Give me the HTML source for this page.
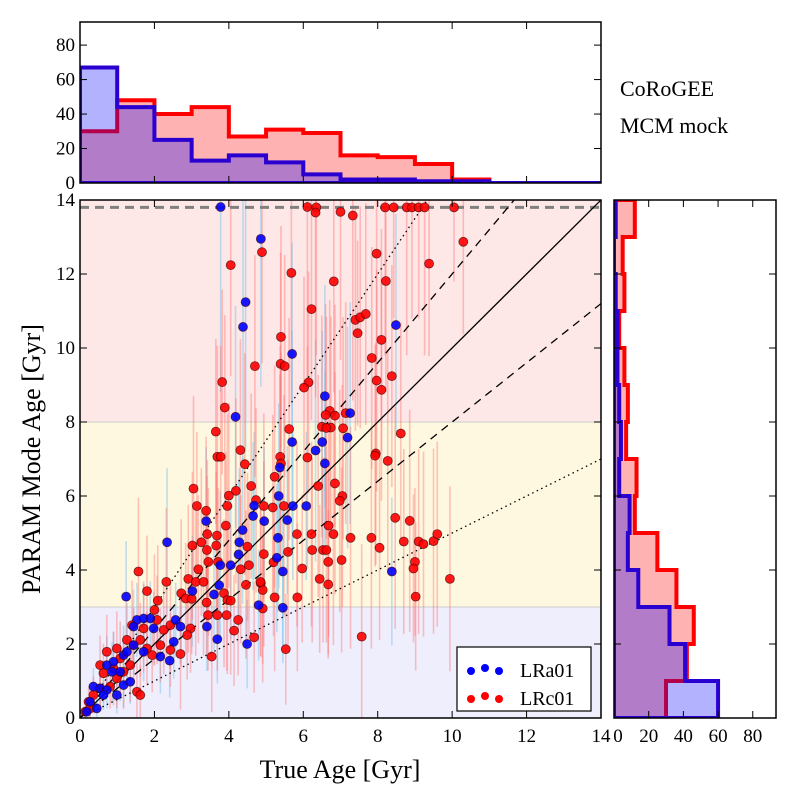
<!DOCTYPE html>
<html><head><meta charset="utf-8"><style>
body{margin:0;background:#fff}
svg{display:block;font-family:"Liberation Serif","DejaVu Serif",serif}
</style></head><body>
<svg id="chart" width="800" height="800" viewBox="0 0 800 800"></svg>
<script>
// ---- data ----
const histBins = [0,1,2,3,4,5,6,7,8,9,10,11,12,13,14];
const trueAgeBlue = [67,44,25,13,16,12,5,2,2,1,1,0,0,0];
const trueAgeRed  = [30,48,40,44,27,31,29,16,15,11,2,0,0,0];
const modeAgeBlue = [60,41,32,14,8,9,3,4,3,2,2,1,0,1];
const modeAgeRed  = [30,42,46,36,25,12,13,7,8,6,3,6,5,12];
const histTicks = [0,20,40,60,80];
const ageTicks = [0,2,4,6,8,10,12,14];
const bandEdges = [0,3,8,14];
const lineSlopes = [1,1.2,0.8,1.5,0.5];
const ceilingAge = 13.8;
// [trueAge, modeAge, err]
const redPts = [
[6.11,13.81,5],[6.35,13.8,4],[6.33,13.66,5],[7.0,13.68,4],[7.33,13.58,5],[8.2,13.8,4],[8.43,13.8,3],[8.78,13.8,4],[8.92,13.8,3],[9.1,13.8,3],[9.26,13.8,4],[10.05,13.8,2],
[10.3,12.87,2.5],[7.97,12.55,3],[9.38,12.28,2.5],[4.05,12.24,3],[4.89,12.59,3],[5.68,12.03,3.5],[6.82,11.8,3],[8.22,11.81,3],[6.22,11.05,3],[7.4,10.76,3],[7.53,10.83,3],[7.68,10.92,3],[7.46,10.4,2.5],[5.4,10.3,3],[8.1,10.22,3],[7.84,9.73,3],[4.7,9.51,3],[5.39,9.57,3],[5.5,9.51,3],[8.38,9.24,3],[7.97,9.12,3],[8.1,8.87,3],[6.14,9.07,3],[6.02,8.93,3],[3.82,9.08,2.5],[3.89,8.39,2.5],[6.71,8.3,3],[6.6,8.19,3],[6.85,8.17,3],[7.14,8.24,3],[6.5,7.87,3],[6.74,7.85,3],[6.62,7.84,3],[7.07,7.83,3],[5.62,7.81,3],[3.65,7.74,2.5],[8.62,7.69,3],[4.31,7.24,3],[7.95,7.15,3],
[3.69,7.06,3],[3.78,7.06,3],[4.43,6.86,3],[5.38,7.06,3],[5.4,6.88,3],[6.11,7.04,3],[7.93,7.09,3],[8.27,6.95,3],[3.05,6.2,2.5],[4.19,6.14,2.5],[4.0,6.01,2.5],[4.6,6.27,2.5],[5.23,6.52,3],[6.4,6.27,3],[6.85,6.34,3],[7.05,6.0,3],[6.98,5.87,3],[4.73,5.89,2.5],[4.94,5.73,2.5],[5.18,5.69,2.5],[5.48,5.73,3],[3.14,5.73,2],[3.96,5.73,2.5],[3.39,5.6,2],[3.92,5.2,2],[6.68,5.2,3],[8.47,5.41,3],[8.86,5.33,3],[5.83,4.97,2.5],[6.22,4.97,2.5],[6.81,4.97,3],[7.27,4.87,3],[7.83,4.87,3],[3.42,4.97,2],[3.68,4.93,2],[3.02,4.66,2],[3.26,4.75,2],[3.66,4.66,2],[3.41,4.54,2],[4.5,4.63,2],[4.94,4.43,2.5],[5.59,4.49,2.5],[6.24,4.54,2.5],[6.53,4.54,2.5],[6.62,4.54,2.5],[8.05,4.6,2.5],[8.7,4.77,2.5],[9.1,4.77,2.5],[9.23,4.7,2.5],[9.5,4.78,2.5],[9.6,4.97,2.5],[9.0,4.22,2],[8.96,4.04,2],[9.94,3.76,2.5],[6.67,4.22,2.5],[7.03,4.27,2.5],[5.97,4.04,2],[6.44,3.76,2],[6.67,3.61,2],[5.2,4.21,2],[3.45,4.22,2],[3.71,4.22,2],[3.18,4.02,2],[4.32,4.02,2],[4.54,4.13,2],[2.32,3.68,2],[2.91,3.76,2],[3.11,3.68,2],[3.32,3.68,2],[1.8,3.43,1.5],[2.72,3.37,2],[3.87,3.37,2],[4.46,3.6,2],[4.86,3.64,2],[4.91,3.46,2],[4.85,3.68,2],[2.09,3.17,1.5],[2.84,3.23,1.5],[3.0,3.22,1.5],[3.4,3.12,1.5],[3.96,3.19,2],[4.05,3.17,2],[5.23,3.26,2],[5.84,3.26,2],[9.02,3.28,2],[4.91,2.96,2],[3.69,2.78,1.5],[3.94,2.78,1.5],[4.25,2.65,1.5],[3.44,2.78,1.5],[4.14,2.36,1.5],[4.68,2.18,1.5],[7.57,2.2,2.5],[5.53,1.86,1.5],[3.54,1.66,1.5],[2.7,1.73,1.5],[1.57,3.96,2],[2.0,2.92,1.5],[1.4,2.51,1.2],[1.71,2.42,1.2],[2.07,2.65,1.2],[2.25,2.38,1.2],[2.43,2.51,1.2],[2.97,2.42,1.2],[2.88,2.24,1.2],[1.62,2.11,1],[1.26,2.11,1],[1.44,1.97,1],[0.99,1.88,1],[0.72,1.79,1],[1.08,1.61,1],[1.35,1.43,1],[0.9,1.34,1],[1.17,1.25,1],[0.54,1.43,0.8],[0.63,1.21,0.8],[1.53,0.71,0.8],[1.62,0.62,0.8],[0.36,0.62,0.5],[0.54,0.8,0.5],[0.23,0.44,0.4],[0.14,0.17,0.3],[0.27,0.26,0.3],[0.81,0.85,0.6],[0.99,1.07,0.8],[1.94,1.7,1],[1.8,1.88,1],[2.16,1.97,1],[2.43,1.84,1]
];
const bluePts = [
[3.78,13.81,5],[4.86,12.95,4],[4.45,11.24,4],[4.38,10.57,4],[8.49,10.62,3],[5.7,9.84,3],[6.58,8.7,3],[7.26,8.24,3],[4.18,8.14,3],[7.19,7.58,3],[5.7,7.46,3],[6.51,7.46,3],[6.33,7.23,3],
[2.34,4.75,2],[3.39,5.32,2],[4.37,5.08,2],[4.28,4.75,2],[4.68,5.74,2],[4.65,5.46,2],[4.95,5.32,2],[5.37,6.77,2.5],[5.34,6.0,2.5],[5.57,5.35,2],[5.32,4.87,2],[5.72,5.73,2],[6.08,5.73,2],[6.58,6.88,2.5],[5.45,3.96,2],[5.45,2.98,1.5],[5.29,4.33,2],[4.26,4.42,2],[4.05,4.13,2],[3.77,4.13,2],[3.74,3.59,1.5],[3.6,3.34,1.5],[3.02,3.43,1.5],[4.8,3.05,1.5],[8.38,3.96,2],[1.24,3.28,1.5],[3.41,2.47,1.2],[3.69,2.13,1.2],[4.49,2.0,1.2],[2.52,2.06,1],[2.41,1.55,1],[2.16,1.66,1],[1.53,2.65,1],[1.71,2.69,1],[1.89,2.69,1],[1.44,2.47,1],[1.98,2.42,1],[2.57,2.65,1],[2.7,2.47,1],[1.17,1.7,0.8],[0.9,1.52,0.8],[0.72,1.43,0.8],[0.86,1.25,0.8],[1.08,1.25,0.8],[1.26,1.79,0.8],[1.44,1.97,0.8],[1.71,1.79,0.8],[0.36,0.85,0.5],[0.54,0.8,0.5],[0.72,0.76,0.5],[0.27,0.44,0.4],[0.45,0.26,0.3],[0.18,0.17,0.3],[0.63,0.62,0.4],[0.99,0.62,0.5],[1.17,0.89,0.6],[1.35,0.98,0.6]
];

// ---- geometry ----
const NS="http://www.w3.org/2000/svg";
const svg=document.getElementById('chart');
const M={l:80,r:601,t:200,b:718};
const T={l:80,r:601,t:22,b:183};
const R={l:614,r:776,t:200,b:718};
const AGEMAX=14, HMAX=93.4;
const mx=v=>M.l+(M.r-M.l)*v/AGEMAX;
const my=v=>M.b-(M.b-M.t)*v/AGEMAX;
const ty=v=>T.b-(T.b-T.t)*v/HMAX;
const rx=v=>R.l+(R.r-R.l)*v/HMAX;
function el(tag,attrs,parent){const e=document.createElementNS(NS,tag);for(const k in attrs)e.setAttribute(k,attrs[k]);(parent||svg).appendChild(e);return e;}

const defs=el('defs',{});
const cp=el('clipPath',{id:'mclip'},defs);el('rect',{x:M.l,y:M.t,width:M.r-M.l,height:M.b-M.t},cp);

// ---- main panel ----
const main=el('g',{'clip-path':'url(#mclip)'});


const bandColors=['#efeefc','#fef8e0','#fde7e7'];
const bandNames=['band-young','band-intermediate','band-old'];
for(let i=0;i<3;i++){
  const r=el('rect',{x:M.l,y:my(bandEdges[i+1]),width:M.r-M.l,height:my(bandEdges[i])-my(bandEdges[i+1]),fill:bandColors[i]},main);
  
  
}
for(let i=1;i<3;i++){el('line',{x1:M.l,x2:M.r,y1:my(bandEdges[i]),y2:my(bandEdges[i]),stroke:'#ccc','stroke-width':1},main);}
function errs(pts,color,name){
  const g=el('g',{},main);
  
  
  pts.forEach(p=>{el('line',{x1:mx(p[0]),x2:mx(p[0]),y1:my(Math.max(0,p[1]-p[2])),y2:my(Math.min(14,p[1]+p[2])),stroke:color,'stroke-width':1.6},g);});
}
errs(bluePts,'rgba(140,200,235,0.55)','lra01-error-bars');
errs(redPts,'rgba(255,110,110,0.4)','lrc01-error-bars');
const cl=el('line',{x1:M.l,x2:M.r,y1:my(ceilingAge),y2:my(ceilingAge),stroke:'#808080','stroke-width':3,'stroke-dasharray':'9,6'},main);


const dashes=['none','8,6','8,6','1.5,3.5','1.5,3.5'];
const lineNames=['one-to-one-line','plus-20pct-line','minus-20pct-line','plus-50pct-line','minus-50pct-line'];
lineSlopes.forEach((s,i)=>{
  const l=el('line',{x1:mx(0),y1:my(0),x2:mx(AGEMAX),y2:my(AGEMAX*s),stroke:'#000','stroke-width':1.3,'stroke-dasharray':dashes[i]},main);
  
  
});
function pts(arr,fill,name){
  const g=el('g',{},main);
  
  
  arr.forEach(p=>{
    const c=el('circle',{cx:mx(p[0]),cy:my(p[1]),r:4.5,fill:fill,stroke:'rgba(60,0,0,0.7)','stroke-width':0.8,'fill-opacity':0.9},g);
    
    
  });
}
pts(redPts,'#ff0000','lrc01-points');
pts(bluePts,'#0000ff','lra01-points');
el('rect',{x:M.l,y:M.t,width:M.r-M.l,height:M.b-M.t,fill:'none',stroke:'#000','stroke-width':1.5});

ageTicks.forEach(v=>{
  el('line',{x1:mx(v),x2:mx(v),y1:M.b,y2:M.b-7,stroke:'#000'});
  el('line',{x1:mx(v),x2:mx(v),y1:M.t,y2:M.t+7,stroke:'#000'});
  el('line',{x1:M.l,x2:M.l+7,y1:my(v),y2:my(v),stroke:'#000'});
  el('line',{x1:M.r,x2:M.r-7,y1:my(v),y2:my(v),stroke:'#000'});
  const tx=el('text',{x:mx(v),y:742,'font-size':19,'text-anchor':'middle'});tx.textContent=v;
  
  
  const tyl=el('text',{x:M.l-5,y:my(v)+6,'font-size':19,'text-anchor':'end'});tyl.textContent=v;
  
  
});
const xt=el('text',{x:340,y:778,'font-size':26,'text-anchor':'middle'});xt.textContent='True Age [Gyr]';


const yt=el('text',{x:0,y:0,'font-size':26,'text-anchor':'middle',transform:'translate(40,459) rotate(-90)'});yt.textContent='PARAM Mode Age [Gyr]';



const lg=el('g',{});


el('rect',{x:457,y:647,width:134,height:64,fill:'#fff',stroke:'#000','stroke-width':1.2},lg);
[['LRa01','#0000ff',670],['LRc01','#ff0000',698]].forEach(e=>{
  const g=el('g',{},lg);
  
  
  [471,485,499].forEach((x,i)=>el('circle',{cx:x,cy:e[2]+(i==1?-2:1),r:4,fill:e[1]},g));
  const t=el('text',{x:520,y:e[2]+7,'font-size':20},g);t.textContent=e[0];
});

// ---- histograms ----
function stepTop(vals,fill,stroke,name,parent){
  let d=`M${mx(0)},${ty(0)}`;
  vals.forEach((v,i)=>{d+=` L${mx(histBins[i])},${ty(v)} L${mx(histBins[i+1])},${ty(v)}`;});
  d+=` L${mx(histBins[vals.length])},${ty(0)} Z`;
  const p=el('path',{d:d,fill:fill,stroke:stroke,'stroke-width':4,'stroke-linejoin':'miter'},parent);
  
  
}
function stepRight(vals,fill,stroke,name,parent){
  let d=`M${rx(0)},${my(0)}`;
  vals.forEach((v,i)=>{d+=` L${rx(v)},${my(histBins[i])} L${rx(v)},${my(histBins[i+1])}`;});
  d+=` L${rx(0)},${my(histBins[vals.length])} Z`;
  const p=el('path',{d:d,fill:fill,stroke:stroke,'stroke-width':4},parent);
  
  
}
const cpT=el('clipPath',{id:'tclip'},defs);el('rect',{x:T.l,y:T.t,width:T.r-T.l,height:T.b-T.t},cpT);
const cpR=el('clipPath',{id:'rclip'},defs);el('rect',{x:R.l,y:R.t,width:R.r-R.l,height:R.b-R.t},cpR);
const gT=el('g',{'clip-path':'url(#tclip)'});


stepTop(trueAgeRed,'rgba(255,0,0,0.3)','#ff0000','true-age-hist-lrc01',gT);
stepTop(trueAgeBlue,'rgba(0,0,255,0.3)','#2a00d0','true-age-hist-lra01',gT);
el('rect',{x:T.l,y:T.t,width:T.r-T.l,height:T.b-T.t,fill:'none',stroke:'#000','stroke-width':1.5});
ageTicks.forEach(v=>{
  el('line',{x1:mx(v),x2:mx(v),y1:T.b,y2:T.b-7,stroke:'#000'});
  el('line',{x1:mx(v),x2:mx(v),y1:T.t,y2:T.t+7,stroke:'#000'});
});
histTicks.forEach(v=>{
  el('line',{x1:T.l,x2:T.l+7,y1:ty(v),y2:ty(v),stroke:'#000'});
  el('line',{x1:T.r,x2:T.r-7,y1:ty(v),y2:ty(v),stroke:'#000'});
  const t=el('text',{x:T.l-5,y:ty(v)+6,'font-size':19,'text-anchor':'end'});t.textContent=v;
  
  
});
const gR=el('g',{'clip-path':'url(#rclip)'});


stepRight(modeAgeRed,'rgba(255,0,0,0.3)','#ff0000','mode-age-hist-lrc01',gR);
stepRight(modeAgeBlue,'rgba(0,0,255,0.3)','#2a00d0','mode-age-hist-lra01',gR);
el('rect',{x:R.l,y:R.t,width:R.r-R.l,height:R.b-R.t,fill:'none',stroke:'#000','stroke-width':1.5});
ageTicks.forEach(v=>{
  el('line',{x1:R.l,x2:R.l+7,y1:my(v),y2:my(v),stroke:'#000'});
  el('line',{x1:R.r,x2:R.r-7,y1:my(v),y2:my(v),stroke:'#000'});
});
histTicks.forEach(v=>{
  el('line',{x1:rx(v),x2:rx(v),y1:R.b,y2:R.b-7,stroke:'#000'});
  el('line',{x1:rx(v),x2:rx(v),y1:R.t,y2:R.t+7,stroke:'#000'});
  const t=el('text',{x:rx(v)+(v==0?4:0),y:742,'font-size':19,'text-anchor':'middle'});t.textContent=v;
  
  
});
const a1=el('text',{x:620,y:96,'font-size':22});a1.textContent='CoRoGEE';


const a2=el('text',{x:620,y:133,'font-size':22});a2.textContent='MCM mock';


</script>
</body></html>
